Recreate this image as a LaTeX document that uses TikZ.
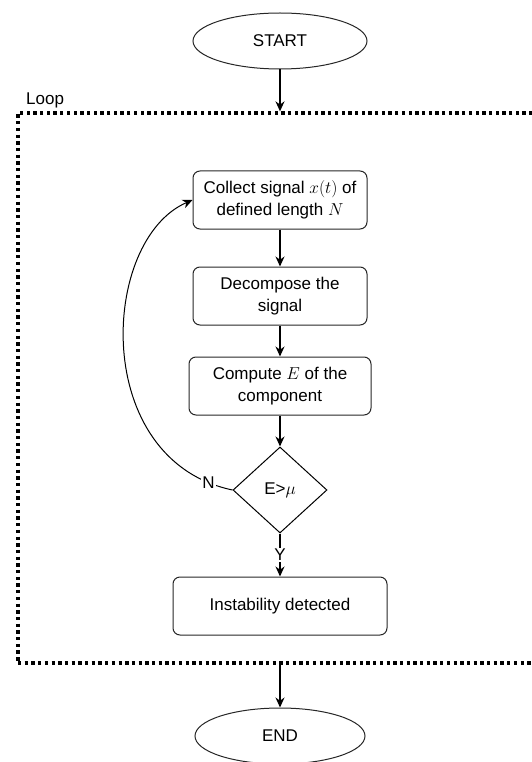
\documentclass[tikz,border=0pt]{standalone}
\usepackage{fontspec}
\setmainfont{Liberation Sans}
\usetikzlibrary{shapes.geometric,arrows.meta}
\tikzset{
  terminal/.style={ellipse, draw=black!85, line width=1pt, inner sep=0pt,
    minimum width=174pt, minimum height=56pt, font=\fontsize{17}{20}\selectfont},
  process/.style={rectangle, rounded corners=7pt, draw=black!85, line width=1pt,
    minimum height=58pt, align=center, inner sep=2pt,
    font=\fontsize{17}{22}\selectfont},
  decision/.style={diamond, draw=black, line width=1pt, inner sep=0pt,
    minimum width=94pt, minimum height=86pt, font=\fontsize{17}{20}\selectfont},
  flow/.style={-{Stealth[length=10pt,width=9pt]}, line width=1.3pt},
  loopbox/.style={draw, line width=3.3pt, dash pattern=on 3.3pt off 3.4pt},
  lbl/.style={fill=white, inner sep=1pt, font=\fontsize{17}{20}\selectfont}
}

\begin{document}
\begin{tikzpicture}[x=1pt, y=-1pt]
  \useasboundingbox (0,0) rectangle (532,762);
  \clip (0,0) rectangle (532,762);

  % loop container
  \node[loopbox, minimum width=545pt, minimum height=550pt] (loop) at (290.5,388) {};
  \node[anchor=west, inner sep=0pt, font=\fontsize{17}{20}\selectfont] (looplbl) at (26,100) {Loop};

  % flow nodes
  \node[terminal] (start) at (280,41) {START};
  \node[process, minimum width=174pt] (collect) at (280,200)
    {Collect signal $x(t)$ of\\defined length $N$};
  \node[process, minimum width=174pt] (decomp) at (280,296)
    {Decompose the\\signal};
  \node[process, minimum width=182pt] (energy) at (280,386)
    {Compute $E$ of the\\component};
  \node[decision] (check) at (280,490) {E>$\mu$};
  \node[process, minimum width=214pt] (instab) at (280,606) {Instability detected};
  \node[terminal, minimum width=170pt] (stop) at (280,736) {END};

  % connectors
  \draw[flow] (start) -- (start |- loop.north);
  \draw[flow] (collect) -- (decomp);
  \draw[flow] (decomp) -- (energy);
  \draw[flow] (energy) -- (check);
  \draw[flow] (check) -- node[lbl] {Y} (instab);
  \draw[flow, line width=1pt] (check.west) .. controls (90,460) and (100,240) ..
    node[lbl, pos=0.06] {N} (collect.west);
  \draw[flow] (stop |- loop.south) -- (stop);
\end{tikzpicture}
\end{document}
